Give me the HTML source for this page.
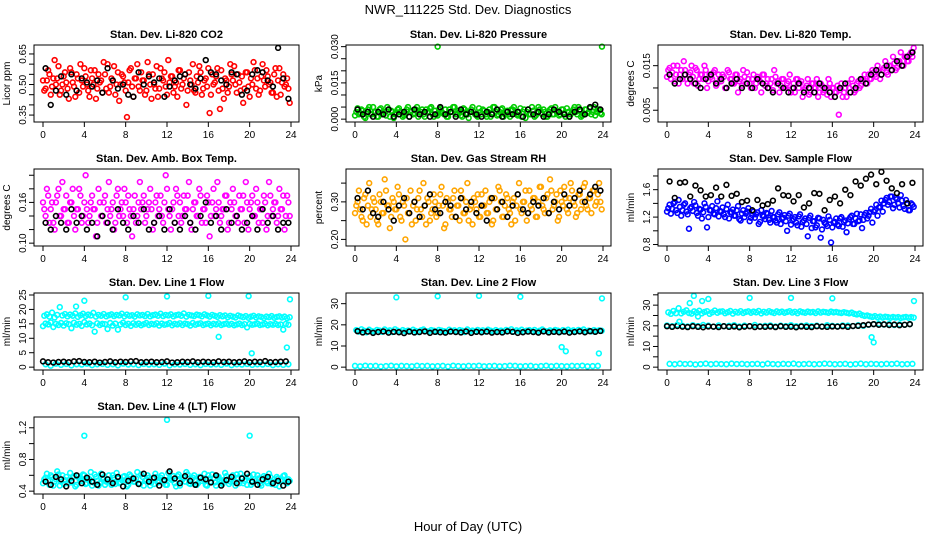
<!DOCTYPE html>
<html><head><meta charset="utf-8"><style>
html,body{margin:0;padding:0;background:#fff}
svg{display:block;font-family:"Liberation Sans",Arial,sans-serif}
</style></head><body>
<svg id="chart" width="936" height="540" viewBox="0 0 936 540">
<text x="468" y="14" text-anchor="middle" font-size="13">NWR_111225  Std. Dev. Diagnostics</text>
<text x="468" y="531" text-anchor="middle" font-size="13">Hour of Day (UTC)</text>
</svg>
<script>
// ---------- data ----------
const hourTicks=[0,4,8,12,16,20,24];
const co2=[0.47,0.52,0.55,0.49,0.62,0.53,0.45,0.50,0.56,0.48,0.58,0.51,0.44,0.53,0.60,0.49,0.54,0.47,0.57,0.50,0.43,0.55,0.52,0.61,0.48,0.46,0.53,0.59,0.50,0.42,0.55,0.51,0.34,0.57,0.49,0.53,0.60,0.47,0.52,0.45,0.61,0.50,0.55,0.48,0.44,0.58,0.52,0.49,0.62,0.54,0.46,0.51,0.57,0.48,0.53,0.40,0.56,0.50,0.47,0.54,0.59,0.45,0.52,0.49,0.36,0.55,0.51,0.58,0.38,0.48,0.53,0.46,0.60,0.52,0.50,0.55,0.47,0.41,0.56,0.49,0.53,0.61,0.48,0.45,0.54,0.52,0.57,0.50,0.46,0.55,0.44,0.58,0.51,0.49,0.53,0.41];
const co2b=[0.52,0.48,0.57,0.45,0.53,0.50,0.59,0.47,0.54,0.51,0.43,0.56,0.49,0.55,0.46,0.52,0.58,0.50,0.44,0.53,0.57,0.48,0.51,0.46,0.55,0.60,0.49,0.52,0.45,0.56,0.50,0.54,0.47,0.51,0.58,0.44,0.53,0.49,0.56,0.52,0.47,0.55,0.43,0.50,0.59,0.48,0.53,0.56,0.45,0.51,0.54,0.49,0.44,0.57,0.50,0.55,0.47,0.52,0.60,0.46,0.51,0.56,0.48,0.53,0.58,0.45,0.50,0.54,0.47,0.57,0.43,0.52,0.49,0.55,0.59,0.46,0.51,0.54,0.48,0.56,0.44,0.50,0.57,0.53,0.47,0.60,0.49,0.54,0.51,0.46,0.58,0.52,0.45,0.55,0.50,0.48];
const co2K=[0.58,0.40,0.47,0.54,0.45,0.55,0.47,0.53,0.51,0.49,0.52,0.46,0.58,0.52,0.48,0.50,0.45,0.44,0.56,0.50,0.54,0.51,0.53,0.44,0.49,0.52,0.54,0.55,0.50,0.48,0.53,0.62,0.56,0.55,0.52,0.50,0.56,0.55,0.45,0.47,0.55,0.57,0.56,0.52,0.49,0.68,0.53,0.43];
const press=[0.003,0.002,0.004,0.001,0.003,0.005,0.002,0.003,0.001,0.004,0.002,0.003,0.005,0.001,0.003,0.002,0.004,0.003,0.001,0.002,0.005,0.003,0.002,0.004,0.001,0.003,0.002,0.004,0.003,0.005,0.001,0.002,0.004,0.003,0.002,0.001,0.004,0.003,0.005,0.002,0.003,0.001,0.004,0.002,0.003,0.005,0.002,0.001,0.003,0.004,0.002,0.003,0.001,0.005,0.003,0.002,0.004,0.001,0.003,0.002,0.004,0.005,0.002,0.003,0.001,0.004,0.003,0.002,0.005,0.001,0.003,0.004,0.002,0.003,0.001,0.004,0.002,0.005,0.003,0.002,0.004,0.001,0.003,0.002,0.004,0.003,0.005,0.001,0.002,0.004,0.003,0.002,0.005,0.003,0.004,0.002];
const pressb=[0.0015,0.0045,0.0025,0.0035,0.0005,0.0040,0.0020,0.0050,0.0030,0.0010,0.0045,0.0025,0.0015,0.0040,0.0035,0.0005,0.0025,0.0045,0.0030,0.0015,0.0040,0.0010,0.0035,0.0025,0.0050,0.0020,0.0040,0.0010,0.0030,0.0045,0.0020,0.0035,0.0015,0.0045,0.0025,0.0040,0.0010,0.0030,0.0050,0.0020,0.0035,0.0015,0.0045,0.0025,0.0005,0.0040,0.0030,0.0015,0.0045,0.0020,0.0035,0.0010,0.0040,0.0025,0.0050,0.0015,0.0030,0.0045,0.0020,0.0035,0.0010,0.0040,0.0025,0.0015,0.0045,0.0030,0.0005,0.0040,0.0020,0.0035,0.0015,0.0050,0.0025,0.0040,0.0010,0.0030,0.0045,0.0020,0.0035,0.0015,0.0040,0.0025,0.0045,0.0010,0.0030,0.0050,0.0020,0.0035,0.0015,0.0040,0.0025,0.0045,0.0030,0.0015,0.0040,0.0025];
const pressK=[0.004,0.002,0.003,0.001,0.003,0.002,0.004,0.001,0.002,0.003,0.001,0.004,0.002,0.003,0.001,0.002,0.005,0.002,0.003,0.001,0.004,0.002,0.003,0.002,0.001,0.003,0.002,0.004,0.001,0.003,0.002,0.003,0.001,0.004,0.002,0.003,0.001,0.002,0.004,0.003,0.002,0.001,0.003,0.004,0.002,0.005,0.006,0.004];
const pressOutH=[8,23.9];
const pressOutV=[0.030,0.030];
const temp=[0.014,0.012,0.015,0.013,0.011,0.014,0.016,0.012,0.013,0.015,0.011,0.014,0.012,0.013,0.015,0.010,0.013,0.012,0.014,0.011,0.012,0.013,0.010,0.014,0.012,0.011,0.013,0.009,0.012,0.014,0.011,0.012,0.010,0.013,0.011,0.012,0.009,0.013,0.011,0.010,0.012,0.014,0.011,0.009,0.012,0.010,0.011,0.013,0.010,0.009,0.012,0.011,0.008,0.010,0.012,0.009,0.011,0.010,0.008,0.011,0.009,0.010,0.012,0.008,0.010,0.009,0.004,0.011,0.009,0.008,0.010,0.012,0.009,0.011,0.010,0.012,0.013,0.011,0.012,0.014,0.013,0.015,0.012,0.014,0.016,0.013,0.015,0.017,0.014,0.016,0.018,0.015,0.017,0.016,0.018,0.019];
const tempb=[0.0125,0.0145,0.0135,0.0115,0.0150,0.0130,0.0120,0.0140,0.0110,0.0135,0.0125,0.0145,0.0105,0.0130,0.0120,0.0140,0.0115,0.0125,0.0135,0.0105,0.0130,0.0115,0.0125,0.0100,0.0135,0.0120,0.0110,0.0130,0.0115,0.0105,0.0125,0.0135,0.0110,0.0120,0.0100,0.0125,0.0115,0.0130,0.0105,0.0120,0.0110,0.0095,0.0125,0.0115,0.0105,0.0120,0.0100,0.0115,0.0090,0.0110,0.0120,0.0100,0.0115,0.0095,0.0105,0.0085,0.0110,0.0100,0.0120,0.0090,0.0105,0.0095,0.0085,0.0110,0.0100,0.0090,0.0105,0.0095,0.0080,0.0100,0.0110,0.0090,0.0105,0.0095,0.0115,0.0105,0.0120,0.0110,0.0130,0.0120,0.0135,0.0125,0.0140,0.0130,0.0145,0.0135,0.0150,0.0140,0.0155,0.0145,0.0160,0.0150,0.0170,0.0160,0.0175,0.0170];
const tempK=[0.013,0.011,0.012,0.013,0.012,0.011,0.010,0.012,0.013,0.011,0.012,0.010,0.011,0.012,0.010,0.011,0.010,0.012,0.011,0.010,0.009,0.011,0.010,0.009,0.010,0.011,0.009,0.010,0.009,0.011,0.010,0.009,0.008,0.010,0.011,0.009,0.010,0.012,0.011,0.013,0.014,0.013,0.015,0.014,0.016,0.015,0.017,0.018];
const amb=[0.15,0.18,0.13,0.16,0.12,0.17,0.14,0.19,0.15,0.13,0.16,0.18,0.12,0.15,0.17,0.14,0.20,0.13,0.16,0.15,0.11,0.18,0.14,0.16,0.13,0.19,0.15,0.12,0.17,0.14,0.16,0.18,0.13,0.15,0.11,0.17,0.14,0.19,0.16,0.13,0.15,0.18,0.12,0.16,0.14,0.17,0.13,0.20,0.15,0.12,0.16,0.18,0.14,0.13,0.17,0.15,0.19,0.12,0.16,0.14,0.18,0.13,0.15,0.17,0.11,0.16,0.14,0.19,0.13,0.15,0.17,0.12,0.16,0.18,0.14,0.13,0.15,0.17,0.19,0.12,0.16,0.14,0.18,0.13,0.15,0.17,0.12,0.19,0.14,0.16,0.13,0.18,0.15,0.12,0.17,0.14];
const ambb=[0.16,0.14,0.17,0.15,0.13,0.16,0.18,0.14,0.15,0.17,0.13,0.16,0.14,0.15,0.18,0.13,0.16,0.15,0.14,0.17,0.15,0.13,0.16,0.14,0.17,0.15,0.14,0.16,0.13,0.18,0.15,0.14,0.16,0.17,0.14,0.15,0.13,0.16,0.15,0.17,0.14,0.16,0.15,0.13,0.17,0.15,0.14,0.16,0.18,0.14,0.15,0.13,0.17,0.16,0.14,0.15,0.17,0.13,0.15,0.16,0.14,0.17,0.15,0.13,0.16,0.14,0.18,0.15,0.16,0.14,0.15,0.17,0.13,0.15,0.16,0.14,0.17,0.15,0.13,0.16,0.15,0.17,0.14,0.16,0.15,0.13,0.16,0.14,0.17,0.15,0.16,0.14,0.15,0.17,0.14,0.16];
const ambK=[0.13,0.12,0.14,0.13,0.12,0.15,0.13,0.14,0.12,0.13,0.11,0.14,0.13,0.12,0.15,0.13,0.12,0.14,0.13,0.15,0.12,0.13,0.14,0.12,0.15,0.13,0.12,0.14,0.13,0.12,0.14,0.16,0.13,0.14,0.12,0.15,0.13,0.14,0.12,0.13,0.14,0.12,0.15,0.13,0.14,0.12,0.13,0.13];
const rh=[0.29,0.33,0.26,0.31,0.24,0.35,0.28,0.30,0.25,0.32,0.27,0.36,0.29,0.23,0.31,0.28,0.34,0.26,0.30,0.20,0.27,0.33,0.29,0.25,0.31,0.28,0.35,0.24,0.30,0.27,0.32,0.26,0.29,0.34,0.23,0.31,0.28,0.26,0.33,0.29,0.25,0.31,0.27,0.35,0.28,0.24,0.30,0.32,0.26,0.29,0.33,0.27,0.31,0.25,0.28,0.34,0.30,0.26,0.32,0.28,0.24,0.31,0.29,0.35,0.27,0.30,0.25,0.33,0.28,0.31,0.26,0.34,0.29,0.27,0.32,0.36,0.28,0.30,0.25,0.33,0.29,0.31,0.27,0.35,0.30,0.26,0.32,0.28,0.34,0.29,0.31,0.27,0.33,0.30,0.35,0.28];
const rhb=[0.27,0.30,0.28,0.25,0.32,0.29,0.26,0.31,0.28,0.24,0.30,0.27,0.33,0.29,0.26,0.30,0.28,0.32,0.25,0.29,0.31,0.27,0.24,0.30,0.28,0.33,0.26,0.29,0.31,0.25,0.28,0.30,0.27,0.32,0.29,0.24,0.30,0.28,0.31,0.26,0.29,0.33,0.27,0.30,0.25,0.29,0.31,0.28,0.26,0.32,0.29,0.27,0.30,0.24,0.31,0.28,0.33,0.26,0.29,0.31,0.27,0.30,0.25,0.32,0.28,0.30,0.33,0.27,0.29,0.31,0.26,0.30,0.34,0.28,0.31,0.27,0.33,0.29,0.32,0.26,0.30,0.34,0.28,0.31,0.33,0.29,0.27,0.32,0.30,0.35,0.28,0.31,0.33,0.29,0.32,0.30];
const rhK=[0.31,0.28,0.33,0.27,0.26,0.30,0.28,0.25,0.29,0.31,0.27,0.30,0.26,0.29,0.32,0.28,0.27,0.30,0.29,0.26,0.31,0.28,0.30,0.27,0.29,0.25,0.31,0.28,0.30,0.26,0.29,0.32,0.28,0.27,0.30,0.29,0.31,0.27,0.30,0.28,0.32,0.29,0.31,0.33,0.30,0.32,0.34,0.33];
const flow=[1.33,1.25,1.40,1.30,1.45,1.22,1.38,1.28,1.03,1.35,1.42,1.26,1.32,1.18,1.40,1.05,1.30,1.36,1.24,1.43,1.29,1.34,1.20,1.38,1.27,1.31,1.22,1.36,1.15,1.30,1.25,1.33,1.19,1.28,1.24,1.10,1.30,1.21,1.26,1.16,1.29,1.20,1.12,1.27,1.18,1.23,1.00,1.25,1.15,1.20,1.08,1.24,1.13,1.18,0.92,1.22,1.14,1.05,1.19,0.90,1.16,1.10,1.21,0.83,1.12,1.18,1.07,1.20,1.13,0.98,1.17,1.22,1.10,1.25,1.15,1.04,1.23,1.18,1.27,1.12,1.30,1.22,1.35,1.28,1.45,1.38,1.50,1.33,1.48,1.40,1.52,1.36,1.45,1.30,1.40,1.35];
const flowb=[1.28,1.38,1.32,1.42,1.26,1.35,1.30,1.40,1.24,1.33,1.29,1.37,1.22,1.31,1.27,1.35,1.20,1.30,1.25,1.33,1.21,1.28,1.24,1.32,1.18,1.27,1.22,1.30,1.17,1.25,1.20,1.28,1.14,1.23,1.19,1.27,1.13,1.22,1.17,1.25,1.12,1.20,1.15,1.24,1.10,1.19,1.14,1.22,1.09,1.17,1.12,1.21,1.06,1.15,1.10,1.19,1.04,1.14,1.08,1.18,1.02,1.12,1.07,1.16,1.05,1.13,1.09,1.18,1.06,1.15,1.11,1.20,1.10,1.18,1.14,1.24,1.16,1.26,1.22,1.32,1.28,1.38,1.34,1.44,1.40,1.48,1.42,1.50,1.38,1.46,1.34,1.44,1.32,1.40,1.30,1.38];
const flowK=[1.72,1.48,1.70,1.71,1.50,1.66,1.59,1.50,1.52,1.63,1.50,1.67,1.51,1.54,1.42,1.44,1.30,1.45,1.37,1.39,1.44,1.62,1.52,1.51,1.43,1.52,1.34,1.40,1.55,1.54,1.30,1.45,1.50,1.40,1.60,1.52,1.72,1.66,1.76,1.82,1.68,1.86,1.73,1.62,1.55,1.68,1.40,1.70];
const l1a=[17.8,18.3,17.5,18.9,17.2,18.1,20.8,17.9,18.4,17.6,18.2,17.8,18.6,17.4,18.0,18.5,17.7,18.2,17.9,18.8,17.5,18.1,17.8,18.4,17.6,18.0,18.3,17.7,18.1,17.9,18.5,17.6,18.2,17.8,18.0,17.5,18.3,17.9,18.1,17.7,18.4,17.6,18.0,18.2,17.8,18.5,17.7,18.1,17.9,18.3,17.6,18.0,18.2,17.8,18.6,17.5,18.1,17.9,17.7,18.2,18.0,17.6,18.3,17.9,17.5,18.1,17.8,17.4,18.0,17.6,17.9,17.3,17.8,17.5,17.2,17.9,17.6,17.3,17.7,17.1,17.5,17.8,17.2,17.6,17.4,17.0,17.5,17.3,17.7,17.1,17.4,17.6,17.2,17.5,17.0,17.3];
const l1b=[14.2,15.1,14.8,15.5,13.9,15.0,14.6,15.3,14.4,15.2,14.9,13.5,15.4,14.7,15.0,14.3,15.6,14.8,15.1,14.5,12.3,15.2,14.6,15.0,14.9,13.2,15.3,14.4,15.1,13.0,14.8,15.4,14.6,15.0,14.3,15.2,14.7,15.1,14.5,14.9,15.3,14.6,15.0,14.8,15.2,14.4,15.1,14.7,14.9,15.3,14.5,15.0,14.8,15.2,14.6,15.1,14.9,14.4,15.3,14.7,15.0,15.2,14.6,14.9,15.1,14.5,15.0,14.8,15.2,14.6,14.9,15.1,14.7,15.0,14.5,14.8,15.1,14.6,14.9,13.8,15.0,14.7,14.9,15.1,14.6,14.8,15.0,14.5,14.9,14.7,15.0,14.6,14.8,13.0,15.0,14.7];
const l1low=[1.0,0.5,1.2,0.8,1.1,0.6,1.0,0.9,1.2,0.7,1.0,1.1,0.8,1.0,0.6,1.2,0.9,1.0,0.7,1.1,0.9,1.0,0.8,1.2,0.6,1.0,0.9,1.1,0.8,1.0,0.7,1.1,0.9,1.0,0.8,1.2,0.7,1.0,0.9,1.1,0.8,1.0,0.9,1.1,0.7,1.0,0.8,1.0];
const l1K=[2.0,1.7,1.6,1.8,1.9,1.7,2.0,2.1,1.8,1.7,1.9,1.6,1.8,2.0,1.7,1.9,1.8,2.0,2.1,1.7,1.8,1.9,1.7,1.8,2.0,1.6,1.7,1.9,1.8,2.0,1.7,1.9,1.8,1.7,2.0,1.8,1.9,1.7,1.8,2.0,1.7,1.9,1.8,2.1,1.7,1.8,1.9,2.0];
const l1OutH=[3.2,4.0,8.0,12.0,16.0,17.0,19.9,20.2,23.6,23.9];
const l1OutV=[21.0,23.0,24.2,24.5,24.7,10.5,24.6,4.8,6.8,23.5];
const l2a=[17.5,16.8,17.9,17.2,16.5,17.7,17.0,16.9,17.6,17.3,16.7,17.8,17.1,17.4,16.6,17.9,17.2,16.8,17.5,17.0,17.3,16.9,17.7,17.1,16.6,17.4,17.8,17.0,16.9,17.5,17.2,16.7,17.6,17.3,17.0,16.8,17.7,17.1,17.4,16.9,17.5,17.2,16.6,17.8,17.0,17.3,16.9,17.6,17.1,17.4,16.8,17.7,17.2,16.9,17.5,17.0,17.3,16.7,17.6,17.2,17.9,16.8,17.4,17.1,17.7,16.9,17.3,17.5,17.0,17.6,16.8,17.2,17.8,17.1,16.9,17.4,17.0,17.6,17.3,16.8,17.5,17.1,17.7,17.0,17.4,16.9,17.6,17.2,17.8,17.0,17.3,16.9,17.5,17.1,17.4,17.2];
const l2low=[0.6,0.4,0.7,0.5,0.6,0.3,0.5,0.7,0.4,0.6,0.5,0.4,0.7,0.5,0.6,0.4,0.5,0.6,0.3,0.7,0.5,0.4,0.6,0.5,0.7,0.4,0.5,0.6,0.4,0.5,0.7,0.6,0.4,0.5,0.6,0.3,0.5,0.7,0.4,0.6,0.5,0.4,0.6,0.5,0.7,0.4,0.5,0.6];
const l2K=[17.0,16.4,16.8,16.2,16.6,16.9,16.3,16.7,16.5,16.1,16.8,16.4,16.6,16.9,16.2,16.7,16.5,16.3,16.8,16.6,16.4,16.9,16.2,16.7,16.5,16.8,16.3,16.6,16.4,16.9,16.7,16.2,16.5,16.8,16.6,16.3,16.9,16.4,16.7,16.5,16.8,16.3,16.6,16.9,16.5,17.0,16.7,17.1];
const l2OutH=[4.0,8.0,12.0,16.0,20.0,20.4,23.6,23.9];
const l2OutV=[33.0,33.5,33.7,33.3,9.5,7.5,6.5,32.5];
const l3a=[26.5,25.8,27.2,26.1,28.5,26.0,26.8,27.5,26.2,25.9,27.0,26.4,27.3,26.0,26.7,27.1,25.8,26.5,27.4,26.3,26.9,27.0,26.1,26.6,27.2,25.9,26.8,26.4,27.1,26.2,26.7,27.0,26.3,26.9,26.5,27.2,26.0,26.8,26.4,27.1,26.6,26.2,27.0,26.5,26.9,26.3,26.7,27.1,26.4,26.8,26.1,27.0,26.6,26.3,26.9,26.5,26.7,26.2,27.0,26.4,26.8,26.6,26.3,26.9,26.5,26.7,26.4,26.2,26.6,26.3,26.0,26.4,25.8,25.5,25.9,25.2,24.8,25.0,24.6,24.3,24.7,24.1,24.5,24.0,24.4,24.2,23.9,24.3,24.0,24.2,23.8,24.1,24.3,23.9,24.2,24.0];
const l3b=[20.2,19.8,20.5,20.0,19.7,20.3,19.9,20.4,20.1,19.6,20.2,19.8,20.0,20.3,19.7,20.1,19.9,20.4,19.8,20.0,20.2,19.7,20.1,19.9,20.3,19.8,20.0,20.2,19.9,20.1,19.7,20.3,20.0,19.8,20.2,20.1,19.9,20.3,20.0,20.5,20.8,21.0,20.6,20.9,20.4,20.7,20.5,20.8];
const l3low=[1.6,1.4,1.7,1.5,1.6,1.3,1.5,1.7,1.4,1.6,1.5,1.4,1.7,1.5,1.6,1.4,1.5,1.6,1.3,1.7,1.5,1.4,1.6,1.5,1.7,1.4,1.5,1.6,1.4,1.5,1.7,1.6,1.4,1.5,1.6,1.3,1.5,1.7,1.4,1.6,1.5,1.4,1.6,1.5,1.7,1.4,1.5,1.6];
const l3K=[19.8,19.5,19.9,19.6,19.4,19.8,19.5,19.3,19.7,19.6,19.4,19.8,19.5,19.7,19.3,19.6,19.8,19.4,19.6,19.5,19.7,19.4,19.8,19.5,19.6,19.3,19.7,19.5,19.4,19.8,19.6,19.5,19.7,19.6,19.8,19.5,19.9,20.0,20.3,20.6,20.8,20.5,20.7,20.4,20.6,20.3,20.5,20.8];
const l3OutH=[1.2,2.2,2.6,3.0,3.4,4.0,8.0,12.0,16.0,19.8,20.0,23.9];
const l3OutV=[22.0,31.0,34.5,24.5,32.0,33.0,33.5,33.5,33.3,14.5,12.0,32.0];
const l4=[0.55,0.62,0.48,0.58,0.52,0.65,0.47,0.60,0.54,0.50,0.63,0.57,0.46,0.59,0.53,0.61,0.49,0.56,0.64,0.51,0.58,0.47,0.62,0.55,0.52,0.60,0.48,0.57,0.63,0.50,0.54,0.59,0.46,0.61,0.55,0.52,0.64,0.49,0.58,0.53,0.60,0.47,0.56,0.62,0.51,0.57,0.54,0.48,0.63,0.55,0.59,0.46,0.61,0.52,0.57,0.64,0.50,0.55,0.60,0.48,0.58,0.53,0.62,0.47,0.56,0.61,0.51,0.59,0.54,0.49,0.63,0.55,0.52,0.60,0.47,0.57,0.62,0.50,0.55,0.58,0.48,0.61,0.53,0.56,0.47,0.59,0.52,0.62,0.49,0.55,0.58,0.46,0.54,0.60,0.50,0.53];
const l4b=[0.50,0.57,0.53,0.60,0.47,0.55,0.61,0.52,0.49,0.58,0.54,0.51,0.59,0.48,0.56,0.53,0.60,0.50,0.55,0.47,0.61,0.53,0.50,0.57,0.48,0.55,0.52,0.60,0.49,0.56,0.51,0.58,0.54,0.48,0.59,0.52,0.56,0.50,0.61,0.47,0.54,0.57,0.51,0.49,0.58,0.53,0.60,0.52,0.48,0.56,0.54,0.50,0.59,0.47,0.55,0.52,0.61,0.49,0.57,0.53,0.50,0.58,0.55,0.48,0.60,0.52,0.56,0.47,0.58,0.51,0.54,0.59,0.49,0.55,0.52,0.61,0.50,0.57,0.53,0.48,0.59,0.51,0.55,0.60,0.49,0.54,0.57,0.50,0.58,0.52,0.48,0.56,0.53,0.59,0.51,0.55];
const l4K=[0.52,0.48,0.58,0.55,0.46,0.53,0.60,0.50,0.57,0.52,0.48,0.61,0.55,0.50,0.58,0.46,0.53,0.56,0.49,0.62,0.52,0.57,0.47,0.54,0.65,0.56,0.50,0.59,0.53,0.48,0.57,0.55,0.51,0.60,0.47,0.54,0.58,0.50,0.56,0.62,0.52,0.48,0.55,0.58,0.50,0.53,0.47,0.52];
const l4OutH=[4.0,12.0,20.0];
const l4OutV=[1.10,1.30,1.10];

// ---------- rendering ----------
const NS='http://www.w3.org/2000/svg';
const svg=document.getElementById('chart');
function mk(tag,attrs,parent){const e=document.createElementNS(NS,tag);for(const k in attrs)e.setAttribute(k,attrs[k]);(parent||svg).appendChild(e);return e;}

const panels=[
 {key:'co2',col:0,row:0,title:'Stan. Dev. Li-820 CO2',ylab:'Licor ppm',ylim:[0.33,0.68],ticks:[0.35,0.40,0.45,0.50,0.55,0.60,0.65],labels:['0.35','','','0.50','','','0.65'],series:[[co2,'#ff0000'],[co2b,'#ff0000'],[co2K,'#000']],out:null},
 {key:'pressure',col:1,row:0,title:'Stan. Dev. Li-820 Pressure',ylab:'kPa',ylim:[0,0.0295],ticks:[0,0.005,0.010,0.015,0.020,0.025,0.030],labels:['0.000','','','0.015','','','0.030'],series:[[press,'#00cc00'],[pressb,'#00cc00'],[pressK,'#000']],out:[pressOutH,pressOutV,'#00cc00']},
 {key:'temp',col:2,row:0,title:'Stan. Dev. Li-820 Temp.',ylab:'degrees C',ylim:[0.003,0.019],ticks:[0.005,0.010,0.015],labels:['0.005','','0.015'],series:[[temp,'#ff00ff'],[tempb,'#ff00ff'],[tempK,'#000']],out:null},
 {key:'ambbox',col:0,row:1,title:'Stan. Dev. Amb. Box Temp.',ylab:'degrees C',ylim:[0.10,0.205],ticks:[0.10,0.12,0.14,0.16,0.18,0.20],labels:['0.10','','','0.16','',''],series:[[amb,'#ff00ff'],[ambb,'#ff00ff'],[ambK,'#000']],out:null},
 {key:'rh',col:1,row:1,title:'Stan. Dev. Gas Stream RH',ylab:'percent',ylim:[0.19,0.38],ticks:[0.20,0.25,0.30,0.35],labels:['0.20','','0.30',''],series:[[rh,'#ffa500'],[rhb,'#ffa500'],[rhK,'#000']],out:null},
 {key:'sampleflow',col:2,row:1,title:'Stan. Dev. Sample Flow',ylab:'ml/min',ylim:[0.82,1.86],ticks:[0.8,1.0,1.2,1.4,1.6,1.8],labels:['0.8','','1.2','','1.6',''],series:[[flow,'#0000ff'],[flowb,'#0000ff'],[flowK,'#000']],out:null},
 {key:'line1',col:0,row:2,title:'Stan. Dev. Line 1 Flow',ylab:'ml/min',ylim:[0,24.7],ticks:[0,5,10,15,20,25],labels:['0','5','10','15','20','25'],series:[[l1a,'#00ffff'],[l1b,'#00ffff'],[l1low,'#00ffff'],[l1K,'#000']],out:[l1OutH,l1OutV,'#00ffff']},
 {key:'line2',col:1,row:2,title:'Stan. Dev. Line 2 Flow',ylab:'ml/min',ylim:[0,33.7],ticks:[0,10,20,30],labels:['0','10','20','30'],series:[[l2a,'#00ffff'],[l2low,'#00ffff'],[l2K,'#000']],out:[l2OutH,l2OutV,'#00ffff']},
 {key:'line3',col:2,row:2,title:'Stan. Dev. Line 3 Flow',ylab:'ml/min',ylim:[0,34.5],ticks:[0,5,10,15,20,25,30,35],labels:['0','','10','','20','','30',''],series:[[l3a,'#00ffff'],[l3b,'#00ffff'],[l3low,'#00ffff'],[l3K,'#000']],out:[l3OutH,l3OutV,'#00ffff']},
 {key:'line4',col:0,row:3,title:'Stan. Dev. Line 4 (LT) Flow',ylab:'ml/min',ylim:[0.40,1.30],ticks:[0.4,0.6,0.8,1.0,1.2],labels:['0.4','','0.8','','1.2'],series:[[l4,'#00ffff'],[l4b,'#00ffff'],[l4K,'#000']],out:[l4OutH,l4OutV,'#00ffff']}
];

panels.forEach(p=>{
  const L=34+p.col*312, T=45+p.row*124, W=265, H=77;
  const g=mk('g',{});
  
  
  const xs=h=>L+9+h*(W-17)/24;
  const pad=(p.ylim[1]-p.ylim[0])*0.04;
  const y0=p.ylim[0]-pad, y1=p.ylim[1]+pad;
  const ys=v=>T+H-(v-y0)/(y1-y0)*H;
  const t=mk('text',{x:L+W/2,y:T-7,'text-anchor':'middle','font-size':11,'font-weight':'bold'},g);
  t.textContent=p.title;
  
  
  const yl=mk('text',{x:0,y:0,'text-anchor':'middle','font-size':10,transform:`translate(${L-24},${T+H/2}) rotate(-90)`},g);
  yl.textContent=p.ylab;
  
  
  const ax=mk('g',{stroke:'#000','stroke-width':1},g);
  
  
  hourTicks.forEach(h=>{
    mk('line',{x1:xs(h),x2:xs(h),y1:T+H,y2:T+H+5},ax);
    const tl=mk('text',{x:xs(h),y:T+H+16,'text-anchor':'middle','font-size':10,stroke:'none'},g);
    tl.textContent=h;
    
    
  });
  p.ticks.forEach((v,i)=>{
    mk('line',{x1:L-5,x2:L,y1:ys(v),y2:ys(v)},ax);
    if(p.labels[i]){
      const tl=mk('text',{x:0,y:0,'text-anchor':'middle','font-size':10,transform:`translate(${L-8},${ys(v)}) rotate(-90)`},g);
      tl.textContent=p.labels[i];
      
      
    }
  });
  const drawPts=(hs,vs,col)=>{
    const sg=mk('g',{fill:'none',stroke:col,'stroke-width':1.6},g);
    
    
    vs.forEach((v,i)=>{
      const c=mk('circle',{cx:xs(hs(i)),cy:ys(v),r:2.4},sg);
      
      
    });
  };
  p.series.forEach(([arr,col],si)=>drawPts(i=>(i+(si%2?0.0:0.5))*24/arr.length,arr,col));
  if(p.out) drawPts(i=>p.out[0][i],p.out[1],p.out[2]);
  const box=mk('rect',{x:L,y:T,width:W,height:H,fill:'none',stroke:'#000','stroke-width':1},g);
  
  
});
</script>
</body></html>
